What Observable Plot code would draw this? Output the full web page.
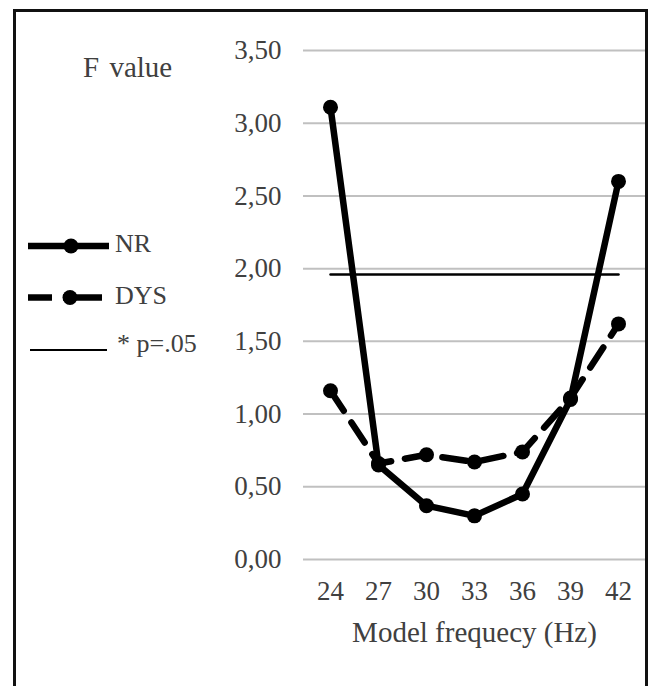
<!DOCTYPE html>
<html>
<head>
<meta charset="utf-8">
<script src="https://cdn.jsdelivr.net/npm/d3@7"></script>
<script src="https://cdn.jsdelivr.net/npm/@observablehq/plot@0.6"></script>
<style>
  html, body { margin: 0; padding: 0; background: #fff; }
  #wrap { position: relative; width: 650px; height: 686px; overflow: hidden; font-family: "Liberation Serif", "Times New Roman", serif; color: #404040; }
  #frame { position: absolute; left: 13px; top: 9px; width: 635px; height: 720px; border: 3px solid #111; box-sizing: border-box; pointer-events: none; }
  #chart { position: absolute; left: 0; top: 0; }
  #legsvg { position: absolute; left: 0; top: 0; pointer-events: none; }
  .txt { position: absolute; line-height: 1; white-space: nowrap; }
</style>
</head>
<body>
<div id="wrap">
  <div id="chart"></div>
  <div class="txt" style="left:83px; top:53px; font-size:29px; word-spacing:3px;">F value</div>
  <svg id="legsvg" width="650" height="686">
    <line x1="28" x2="109" y1="246" y2="246" stroke="#000" stroke-width="6.5"/>
    <circle cx="71" cy="246" r="7.5" fill="#000"/>
    <line x1="28" x2="52" y1="297.5" y2="297.5" stroke="#000" stroke-width="6.5"/>
    <line x1="63" x2="102" y1="297.5" y2="297.5" stroke="#000" stroke-width="6.5"/>
    <circle cx="70" cy="297.5" r="7.5" fill="#000"/>
    <line x1="30" x2="107" y1="350" y2="350" stroke="#000" stroke-width="2"/>
  </svg>
  <div class="txt" style="left:115px; top:231px; font-size:26px;">NR</div>
  <div class="txt" style="left:115px; top:283px; font-size:26px;">DYS</div>
  <div class="txt" style="left:117px; top:331px; font-size:26px;">* p=.05</div>
  <div id="frame"></div>
</div>
<script>
// Data
const freqs = [24, 27, 30, 33, 36, 39, 42];
const nrValues = [3.11, 0.65, 0.37, 0.30, 0.45, 1.10, 2.60];
const dysValues = [1.16, 0.66, 0.72, 0.67, 0.74, 1.11, 1.62];
const thresholdValue = 1.96;
const yTicks = [0, 0.5, 1, 1.5, 2, 2.5, 3, 3.5];
const xLabel = "Model frequecy (Hz)";

const nr = freqs.map((f, i) => ({freq: f, value: nrValues[i]}));
const dys = freqs.map((f, i) => ({freq: f, value: dysValues[i]}));
const threshold = [freqs[0], freqs[freqs.length - 1]].map(f => ({freq: f, value: thresholdValue}));

const fmt = v => d3.format(".2f")(v).replace(".", ",");

const chart = Plot.plot({
  width: 650,
  height: 686,
  marginLeft: 303,
  marginRight: 5,
  marginTop: 50,
  marginBottom: 127,
  style: {fontFamily: "Liberation Serif, Times New Roman, serif", fontSize: "27px", color: "#404040", background: "transparent"},
  x: {type: "point", domain: freqs, padding: 0.5},
  y: {domain: [0, 3.5]},
  marks: [
    Plot.gridY(yTicks, {stroke: "#c0c0c0", strokeOpacity: 1, strokeWidth: 2}),
    Plot.axisY(yTicks, {tickSize: 0, tickPadding: 22, tickFormat: fmt, label: null, fontSize: 27}),
    Plot.axisX({tickSize: 0, tickPadding: 21, label: null, fontSize: 27}),
    Plot.text([xLabel], {frameAnchor: "bottom", dy: 82, text: d => d, fontSize: 29, fill: "#404040", lineAnchor: "bottom", x: null}),
    Plot.line(threshold, {x: "freq", y: "value", stroke: "#000", strokeWidth: 2.5}),
    Plot.line(dys, {x: "freq", y: "value", stroke: "#000", strokeWidth: 6.5, strokeDasharray: "24,14", strokeLinejoin: "round"}),
    Plot.dot(dys, {x: "freq", y: "value", r: 7.5, fill: "#000"}),
    Plot.line(nr, {x: "freq", y: "value", stroke: "#000", strokeWidth: 6.5, strokeLinejoin: "round"}),
    Plot.dot(nr, {x: "freq", y: "value", r: 7.5, fill: "#000"})
  ]
});
document.getElementById("chart").appendChild(chart);
</script>
</body>
</html>
